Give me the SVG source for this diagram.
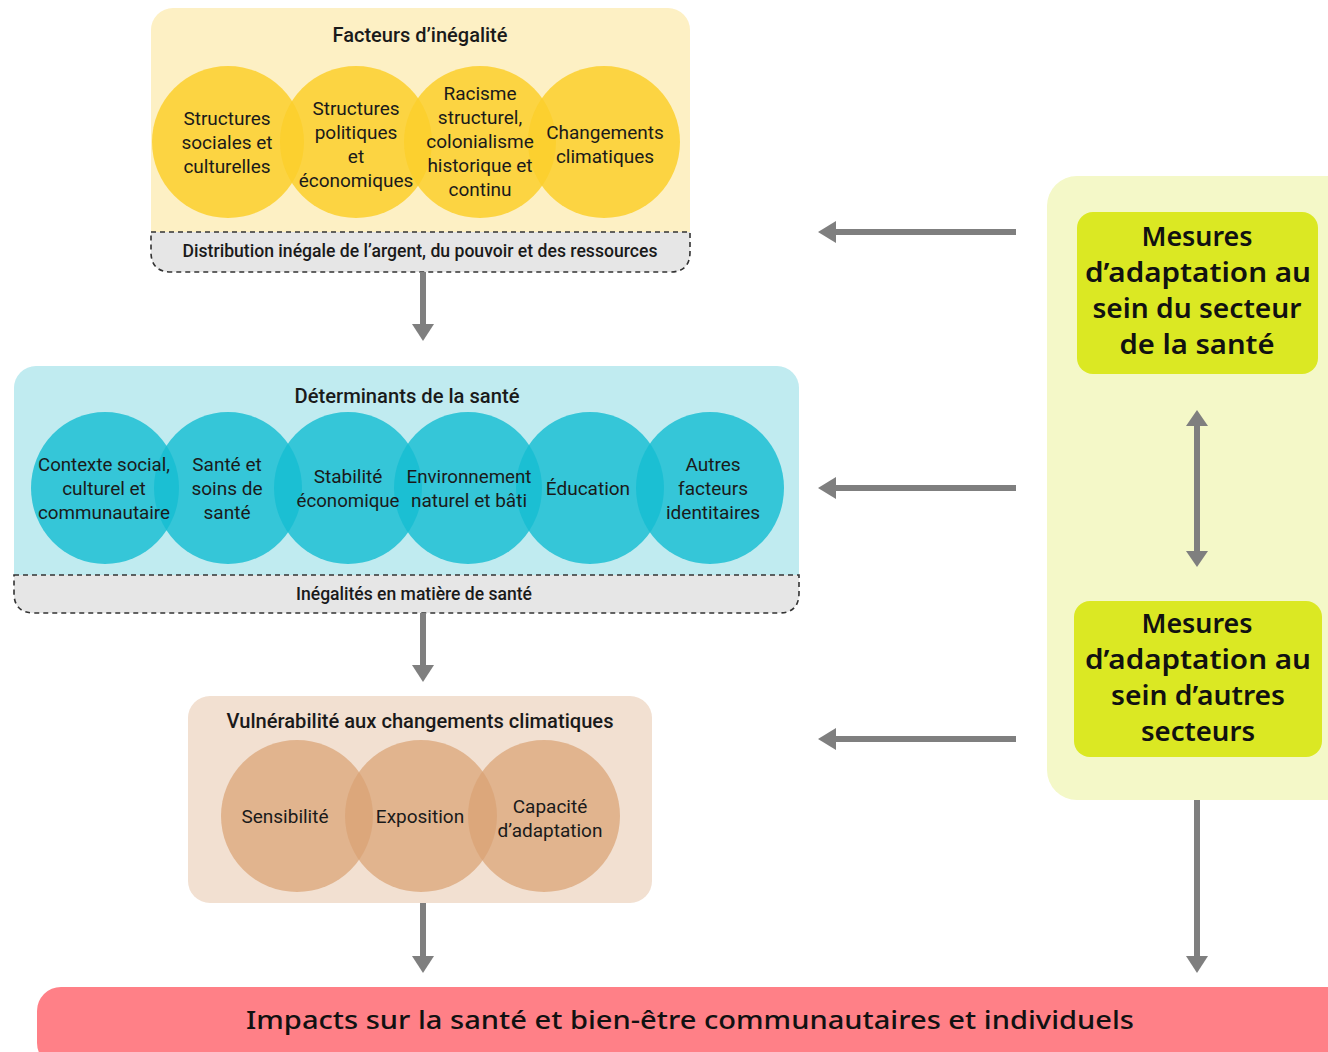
<svg xmlns="http://www.w3.org/2000/svg" width="1328" height="1052" viewBox="0 0 1328 1052">
<defs>
<style>
.t{font-family:Roboto,"Liberation Sans",sans-serif;font-size:19px;fill:#1a1a1a;text-anchor:middle}
.h{font-family:Roboto,"Liberation Sans",sans-serif;font-size:19.5px;font-weight:500;fill:#1a1a1a;text-anchor:middle}
.s{font-family:Roboto,"Liberation Sans",sans-serif;font-size:17.5px;font-weight:500;fill:#1a1a1a;text-anchor:middle}
.m{font-family:"Noto Sans","Liberation Sans",sans-serif;font-size:27px;font-weight:600;fill:#111;text-anchor:middle}
.dash{fill:#e6e6e6;stroke:#333;stroke-width:1.6;stroke-dasharray:5 4}
.y{fill:#fbcf2c;opacity:0.85}
.c{fill:#16bdd2;opacity:0.82}
.b{fill:#d9a274;opacity:0.72}
.a{stroke:#7f7f7f;stroke-width:6;fill:none}
.ah{fill:#7f7f7f}
</style>
</defs>
<rect width="1328" height="1052" fill="#fff"/>

<g id="facteurs">
<rect x="151" y="8" width="539" height="262" rx="22" fill="#fdf0c4"/>
<text class="h" x="420" y="42" textLength="175" lengthAdjust="spacingAndGlyphs">Facteurs d’inégalité</text>
<circle class="y" cx="228" cy="142" r="76"/>
<circle class="y" cx="356" cy="142" r="76"/>
<circle class="y" cx="480" cy="142" r="76"/>
<circle class="y" cx="604" cy="142" r="76"/>
<text class="t" x="227" y="125">Structures</text>
<text class="t" x="227" y="149">sociales et</text>
<text class="t" x="227" y="173">culturelles</text>
<text class="t" x="356" y="115">Structures</text>
<text class="t" x="356" y="139">politiques</text>
<text class="t" x="356" y="163">et</text>
<text class="t" x="356" y="187">économiques</text>
<text class="t" x="480" y="100">Racisme</text>
<text class="t" x="480" y="124">structurel,</text>
<text class="t" x="480" y="148">colonialisme</text>
<text class="t" x="480" y="172">historique et</text>
<text class="t" x="480" y="196">continu</text>
<text class="t" x="605" y="139">Changements</text>
<text class="t" x="605" y="163">climatiques</text>
<path class="dash" d="M151,232 H690 V252 Q690,272 670,272 H171 Q151,272 151,252 Z"/>
<text class="s" x="420" y="257" textLength="475" lengthAdjust="spacingAndGlyphs">Distribution inégale de l’argent, du pouvoir et des ressources</text>
</g>

<g id="determinants">
<rect x="14" y="366" width="785" height="246" rx="22" fill="#c0ebf0"/>
<text class="h" x="407" y="403" textLength="225" lengthAdjust="spacingAndGlyphs">Déterminants de la santé</text>
<ellipse class="c" cx="105" cy="488" rx="74" ry="76"/>
<ellipse class="c" cx="228" cy="488" rx="74" ry="76"/>
<ellipse class="c" cx="348" cy="488" rx="74" ry="76"/>
<ellipse class="c" cx="468" cy="488" rx="74" ry="76"/>
<ellipse class="c" cx="590" cy="488" rx="74" ry="76"/>
<ellipse class="c" cx="710" cy="488" rx="74" ry="76"/>
<text class="t" x="104" y="471" textLength="132" lengthAdjust="spacingAndGlyphs">Contexte social,</text>
<text class="t" x="104" y="495">culturel et</text>
<text class="t" x="104" y="519" textLength="132" lengthAdjust="spacingAndGlyphs">communautaire</text>
<text class="t" x="227" y="471">Santé et</text>
<text class="t" x="227" y="495">soins de</text>
<text class="t" x="227" y="519">santé</text>
<text class="t" x="348" y="483">Stabilité</text>
<text class="t" x="348" y="507" textLength="103" lengthAdjust="spacingAndGlyphs">économique</text>
<text class="t" x="469" y="483" textLength="125" lengthAdjust="spacingAndGlyphs">Environnement</text>
<text class="t" x="469" y="507">naturel et bâti</text>
<text class="t" x="588" y="495">Éducation</text>
<text class="t" x="713" y="471">Autres</text>
<text class="t" x="713" y="495">facteurs</text>
<text class="t" x="713" y="519">identitaires</text>
<path class="dash" d="M14,575 H799 V593 Q799,613 779,613 H34 Q14,613 14,593 Z"/>
<text class="s" x="414" y="600" textLength="236" lengthAdjust="spacingAndGlyphs">Inégalités en matière de santé</text>
</g>

<g id="vulnerabilite">
<rect x="188" y="696" width="464" height="207" rx="22" fill="#f2e0d1"/>
<text class="h" x="420" y="728" textLength="387" lengthAdjust="spacingAndGlyphs">Vulnérabilité aux changements climatiques</text>
<circle class="b" cx="297" cy="816" r="76"/>
<circle class="b" cx="421" cy="816" r="76"/>
<circle class="b" cx="544" cy="816" r="76"/>
<text class="t" x="285" y="823">Sensibilité</text>
<text class="t" x="420" y="823">Exposition</text>
<text class="t" x="550" y="813">Capacité</text>
<text class="t" x="550" y="837">d’adaptation</text>
</g>

<g id="mesures">
<rect x="1047" y="176" width="310" height="624" rx="30" fill="#f4f8c8"/>
<g id="mesures-sante">
<rect x="1077" y="212" width="241" height="162" rx="16" fill="#dbe823"/>
<text class="m" x="1197" y="246" textLength="111" lengthAdjust="spacingAndGlyphs">Mesures</text>
<text class="m" x="1198" y="282" textLength="226" lengthAdjust="spacingAndGlyphs">d’adaptation au</text>
<text class="m" x="1197" y="318" textLength="209" lengthAdjust="spacingAndGlyphs">sein du secteur</text>
<text class="m" x="1197" y="354" textLength="155" lengthAdjust="spacingAndGlyphs">de la santé</text>
</g>
<g id="mesures-autres">
<rect x="1074" y="601" width="248" height="156" rx="16" fill="#dbe823"/>
<text class="m" x="1197" y="633" textLength="111" lengthAdjust="spacingAndGlyphs">Mesures</text>
<text class="m" x="1198" y="669" textLength="226" lengthAdjust="spacingAndGlyphs">d’adaptation au</text>
<text class="m" x="1198" y="705" textLength="174" lengthAdjust="spacingAndGlyphs">sein d’autres</text>
<text class="m" x="1198" y="741" textLength="114" lengthAdjust="spacingAndGlyphs">secteurs</text>
</g>
</g>

<g id="impacts">
<rect x="37" y="987" width="1320" height="80" rx="24" fill="#ff8087"/>
<text x="690" y="1029" font-family="'Noto Sans','Liberation Sans',sans-serif" font-size="26" font-weight="500" fill="#111" text-anchor="middle" textLength="888" lengthAdjust="spacingAndGlyphs">Impacts sur la santé et bien-être communautaires et individuels</text>
</g>

<g id="connectors">
<line class="a" x1="1016" y1="232" x2="834" y2="232"/>
<polygon class="ah" points="818,232 836,221 836,243"/>
<line class="a" x1="1016" y1="488" x2="834" y2="488"/>
<polygon class="ah" points="818,488 836,477 836,499"/>
<line class="a" x1="1016" y1="739" x2="834" y2="739"/>
<polygon class="ah" points="818,739 836,728 836,750"/>
<line class="a" x1="423" y1="272" x2="423" y2="326"/>
<polygon class="ah" points="423,341 412,324 434,324"/>
<line class="a" x1="423" y1="613" x2="423" y2="667"/>
<polygon class="ah" points="423,682 412,665 434,665"/>
<line class="a" x1="423" y1="903" x2="423" y2="958"/>
<polygon class="ah" points="423,973 412,956 434,956"/>
<line class="a" x1="1197" y1="800" x2="1197" y2="958"/>
<polygon class="ah" points="1197,973 1186,956 1208,956"/>
<line class="a" x1="1197" y1="424" x2="1197" y2="553"/>
<polygon class="ah" points="1197,410 1186,426 1208,426"/>
<polygon class="ah" points="1197,567 1186,551 1208,551"/>
</g>
</svg>
